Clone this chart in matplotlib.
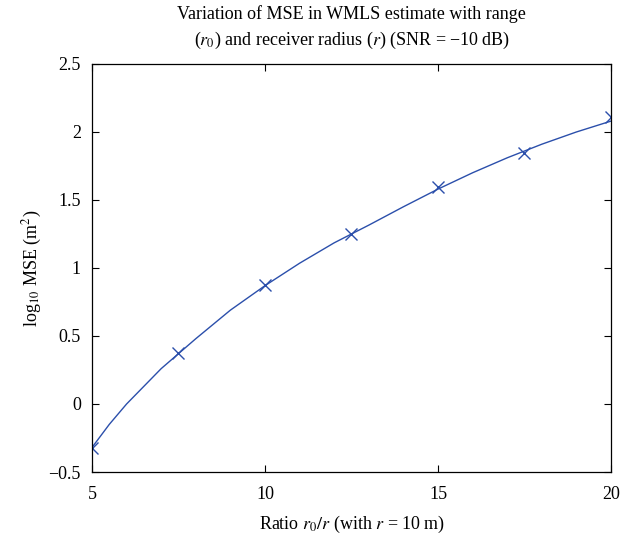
import matplotlib
matplotlib.use('Agg')
import matplotlib.pyplot as plt
import matplotlib.ticker as ticker

plt.rcParams['font.family'] = 'Liberation Serif'
plt.rcParams['mathtext.fontset'] = 'stix'
plt.rcParams['font.size'] = 12
plt.rcParams['axes.unicode_minus'] = True

# points of the smooth curve
line_x = [5, 5.5, 6, 7, 8, 9, 10, 11, 12, 13, 14, 15, 16, 17, 18, 19, 20]
line_y = [-0.32, -0.15, 0.0, 0.26, 0.48, 0.69, 0.87, 1.035, 1.185, 1.315, 1.45,
          1.58, 1.70, 1.81, 1.91, 2.00, 2.08]

# simulated points (markers)
mark_x = [5, 7.5, 10, 12.5, 15, 17.5, 20]
mark_y = [-0.32, 0.375, 0.875, 1.25, 1.596, 1.846, 2.11]

blue = '#2b4fab'

fig = plt.figure(figsize=(6.33, 5.39), dpi=100)
ax = fig.add_axes([0.1453, 0.1243, 0.8199, 0.7570])

ax.plot(line_x, line_y, '-', color=blue, linewidth=1.0)
ax.plot(mark_x, mark_y, 'x', color=blue, markersize=8, markeredgewidth=1.0)

ax.set_xlim(5, 20)
ax.set_ylim(-0.5, 2.5)
ax.xaxis.set_major_locator(ticker.MultipleLocator(5))
ax.yaxis.set_major_locator(ticker.MultipleLocator(0.5))


def fmt(v, pos):
    s = f"{v:g}"
    return s.replace('-', '\u2212')


ax.yaxis.set_major_formatter(ticker.FuncFormatter(fmt))
ax.xaxis.set_major_formatter(ticker.FuncFormatter(fmt))
ax.tick_params(direction='in', length=5, width=0.8, top=True, right=True,
               labelsize=13)
ax.tick_params(axis='x', pad=10)
ax.tick_params(axis='y', pad=8)
for sp in ax.spines.values():
    sp.set_linewidth(0.9)

ax.set_title("Variation of MSE in WMLS estimate with range\n"
             "($r_0$) and receiver radius ($r$) (SNR = \u221210\u2009dB)",
             fontsize=13, linespacing=1.45, pad=14)
ax.set_xlabel("Ratio $r_0/r$ (with $r$ = 10\u2009m)", fontsize=13, labelpad=8)
ax.set_ylabel("log$_{10}$ MSE (m$^2$)", fontsize=13, labelpad=3)

fig.savefig('out.png', dpi=100)
